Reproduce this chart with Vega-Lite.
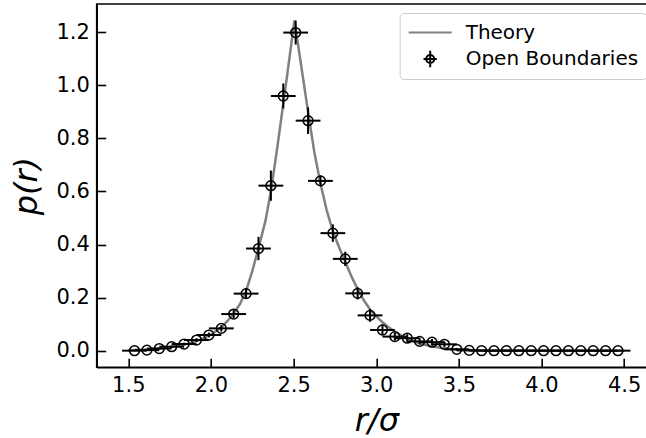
{
  "$schema": "https://vega.github.io/schema/vega-lite/v6.json",
  "width": 559.2,
  "height": 363.3,
  "autosize": {"type": "none"},
  "padding": {"left": 96.7, "top": 4, "right": 0, "bottom": 70.7},
  "background": "white",
  "config": {
    "view": {"stroke": "black", "strokeWidth": 1.6},
    "axis": {
      "grid": false,
      "domainColor": "black",
      "domainWidth": 1.6,
      "tickColor": "black",
      "tickWidth": 1.6,
      "tickSize": -9,
      "labelFont": "DejaVu Sans",
      "labelFontSize": 21,
      "labelColor": "black",
      "labelOverlap": false,
      "labelFlush": false,
      "titleFont": "DejaVu Sans",
      "titleFontSize": 32,
      "titleFontStyle": "italic",
      "titleFontWeight": "normal",
      "titleColor": "black"
    }
  },
  "datasets": {
    "theory": [
      {"r": 1.5, "p": 0.002, "series": "Theory"},
      {"r": 1.6, "p": 0.004, "series": "Theory"},
      {"r": 1.7, "p": 0.009, "series": "Theory"},
      {"r": 1.8, "p": 0.018, "series": "Theory"},
      {"r": 1.85, "p": 0.025, "series": "Theory"},
      {"r": 1.9, "p": 0.033, "series": "Theory"},
      {"r": 1.95, "p": 0.045, "series": "Theory"},
      {"r": 2.0, "p": 0.06, "series": "Theory"},
      {"r": 2.0625, "p": 0.088, "series": "Theory"},
      {"r": 2.1, "p": 0.112, "series": "Theory"},
      {"r": 2.1375, "p": 0.14, "series": "Theory"},
      {"r": 2.175, "p": 0.175, "series": "Theory"},
      {"r": 2.2125, "p": 0.225, "series": "Theory"},
      {"r": 2.25, "p": 0.3, "series": "Theory"},
      {"r": 2.2875, "p": 0.385, "series": "Theory"},
      {"r": 2.33, "p": 0.49, "series": "Theory"},
      {"r": 2.3625, "p": 0.6, "series": "Theory"},
      {"r": 2.4, "p": 0.76, "series": "Theory"},
      {"r": 2.4375, "p": 0.93, "series": "Theory"},
      {"r": 2.47, "p": 1.08, "series": "Theory"},
      {"r": 2.505, "p": 1.245, "series": "Theory"},
      {"r": 2.55, "p": 1.057, "series": "Theory"},
      {"r": 2.5875, "p": 0.9, "series": "Theory"},
      {"r": 2.625, "p": 0.75, "series": "Theory"},
      {"r": 2.6625, "p": 0.63, "series": "Theory"},
      {"r": 2.7, "p": 0.53, "series": "Theory"},
      {"r": 2.7375, "p": 0.45, "series": "Theory"},
      {"r": 2.775, "p": 0.39, "series": "Theory"},
      {"r": 2.8125, "p": 0.335, "series": "Theory"},
      {"r": 2.85, "p": 0.28, "series": "Theory"},
      {"r": 2.8875, "p": 0.232, "series": "Theory"},
      {"r": 2.925, "p": 0.19, "series": "Theory"},
      {"r": 2.9625, "p": 0.155, "series": "Theory"},
      {"r": 3.0, "p": 0.13, "series": "Theory"},
      {"r": 3.0375, "p": 0.107, "series": "Theory"},
      {"r": 3.075, "p": 0.088, "series": "Theory"},
      {"r": 3.1125, "p": 0.072, "series": "Theory"},
      {"r": 3.15, "p": 0.058, "series": "Theory"},
      {"r": 3.1875, "p": 0.046, "series": "Theory"},
      {"r": 3.225, "p": 0.036, "series": "Theory"},
      {"r": 3.2625, "p": 0.028, "series": "Theory"},
      {"r": 3.3, "p": 0.0215, "series": "Theory"},
      {"r": 3.35, "p": 0.015, "series": "Theory"},
      {"r": 3.4, "p": 0.01, "series": "Theory"},
      {"r": 3.45, "p": 0.0065, "series": "Theory"},
      {"r": 3.5, "p": 0.0042, "series": "Theory"},
      {"r": 3.6, "p": 0.0016, "series": "Theory"},
      {"r": 3.7, "p": 0.0006, "series": "Theory"},
      {"r": 3.8, "p": 0.0002, "series": "Theory"},
      {"r": 4.0, "p": 0.0, "series": "Theory"},
      {"r": 4.5, "p": 0.0, "series": "Theory"}
    ],
    "points": [
      {"r": 1.5375, "p": 0.0, "dp": 0.002, "dr": 0.075, "series": "Open Boundaries"},
      {"r": 1.6125, "p": 0.002, "dp": 0.002, "dr": 0.075, "series": "Open Boundaries"},
      {"r": 1.6875, "p": 0.008, "dp": 0.003, "dr": 0.075, "series": "Open Boundaries"},
      {"r": 1.7625, "p": 0.015, "dp": 0.004, "dr": 0.075, "series": "Open Boundaries"},
      {"r": 1.8375, "p": 0.025, "dp": 0.005, "dr": 0.075, "series": "Open Boundaries"},
      {"r": 1.9125, "p": 0.04, "dp": 0.007, "dr": 0.075, "series": "Open Boundaries"},
      {"r": 1.9875, "p": 0.059, "dp": 0.009, "dr": 0.075, "series": "Open Boundaries"},
      {"r": 2.0625, "p": 0.084, "dp": 0.012, "dr": 0.075, "series": "Open Boundaries"},
      {"r": 2.1375, "p": 0.138, "dp": 0.015, "dr": 0.075, "series": "Open Boundaries"},
      {"r": 2.2125, "p": 0.215, "dp": 0.02, "dr": 0.075, "series": "Open Boundaries"},
      {"r": 2.2875, "p": 0.385, "dp": 0.044, "dr": 0.075, "series": "Open Boundaries"},
      {"r": 2.3625, "p": 0.622, "dp": 0.057, "dr": 0.075, "series": "Open Boundaries"},
      {"r": 2.4375, "p": 0.96, "dp": 0.047, "dr": 0.075, "series": "Open Boundaries"},
      {"r": 2.5125, "p": 1.199, "dp": 0.045, "dr": 0.075, "series": "Open Boundaries"},
      {"r": 2.5875, "p": 0.867, "dp": 0.05, "dr": 0.075, "series": "Open Boundaries"},
      {"r": 2.6625, "p": 0.64, "dp": 0.02, "dr": 0.075, "series": "Open Boundaries"},
      {"r": 2.7375, "p": 0.443, "dp": 0.033, "dr": 0.075, "series": "Open Boundaries"},
      {"r": 2.8125, "p": 0.346, "dp": 0.027, "dr": 0.075, "series": "Open Boundaries"},
      {"r": 2.8875, "p": 0.216, "dp": 0.023, "dr": 0.075, "series": "Open Boundaries"},
      {"r": 2.9625, "p": 0.133, "dp": 0.024, "dr": 0.075, "series": "Open Boundaries"},
      {"r": 3.0375, "p": 0.078, "dp": 0.02, "dr": 0.075, "series": "Open Boundaries"},
      {"r": 3.1125, "p": 0.053, "dp": 0.015, "dr": 0.075, "series": "Open Boundaries"},
      {"r": 3.1875, "p": 0.047, "dp": 0.015, "dr": 0.075, "series": "Open Boundaries"},
      {"r": 3.2625, "p": 0.035, "dp": 0.012, "dr": 0.075, "series": "Open Boundaries"},
      {"r": 3.3375, "p": 0.032, "dp": 0.012, "dr": 0.075, "series": "Open Boundaries"},
      {"r": 3.4125, "p": 0.024, "dp": 0.01, "dr": 0.075, "series": "Open Boundaries"},
      {"r": 3.4875, "p": 0.005, "dp": 0.005, "dr": 0.075, "series": "Open Boundaries"},
      {"r": 3.5625, "p": 0.001, "dp": 0.001, "dr": 0.075, "series": "Open Boundaries"},
      {"r": 3.6375, "p": 0.0, "dp": 0.001, "dr": 0.075, "series": "Open Boundaries"},
      {"r": 3.7125, "p": 0.0, "dp": 0.001, "dr": 0.075, "series": "Open Boundaries"},
      {"r": 3.7875, "p": 0.0, "dp": 0.001, "dr": 0.075, "series": "Open Boundaries"},
      {"r": 3.8625, "p": 0.0, "dp": 0.001, "dr": 0.075, "series": "Open Boundaries"},
      {"r": 3.9375, "p": 0.0, "dp": 0.001, "dr": 0.075, "series": "Open Boundaries"},
      {"r": 4.0125, "p": 0.0, "dp": 0.001, "dr": 0.075, "series": "Open Boundaries"},
      {"r": 4.0875, "p": 0.0, "dp": 0.001, "dr": 0.075, "series": "Open Boundaries"},
      {"r": 4.1625, "p": 0.0, "dp": 0.001, "dr": 0.075, "series": "Open Boundaries"},
      {"r": 4.2375, "p": 0.0, "dp": 0.001, "dr": 0.075, "series": "Open Boundaries"},
      {"r": 4.3125, "p": 0.0, "dp": 0.001, "dr": 0.075, "series": "Open Boundaries"},
      {"r": 4.3875, "p": 0.0, "dp": 0.001, "dr": 0.075, "series": "Open Boundaries"},
      {"r": 4.4625, "p": 0.0, "dp": 0.001, "dr": 0.075, "series": "Open Boundaries"}
    ]
  },
  "encoding": {
    "x": {
      "field": "r",
      "type": "quantitative",
      "scale": {"domain": [1.3088, 4.6918], "nice": false, "zero": false},
      "axis": {"title": "r/σ", "values": [1.5, 2, 2.5, 3, 3.5, 4, 4.5], "format": ".1f", "labelPadding": 16.4, "titlePadding": 10}
    },
    "y": {
      "field": "p",
      "type": "quantitative",
      "scale": {"domain": [-0.0627, 1.3067], "nice": false, "zero": false},
      "axis": {"title": "p(r)", "values": [0, 0.2, 0.4, 0.6, 0.8, 1.0, 1.2], "format": ".1f", "labelPadding": 16.4, "titlePadding": 12}
    }
  },
  "layer": [
    {
      "data": {"name": "theory"},
      "mark": {"type": "line", "strokeWidth": 2.5},
      "encoding": {
        "stroke": {
          "field": "series",
          "type": "nominal",
          "scale": {"domain": ["Theory", "Open Boundaries"], "range": ["#808080", "#000000"]},
          "legend": {
            "title": null,
            "orient": "top-right",
            "offset": 9.3,
            "padding": 8,
            "cornerRadius": 4,
            "strokeColor": "#cccccc",
            "fillColor": "white",
            "labelFont": "DejaVu Sans",
            "labelFontSize": 20,
            "labelColor": "black",
            "labelLimit": 400,
            "labelOffset": 13,
            "symbolSize": 1849,
            "symbolStrokeWidth": 2,
            "symbolType": "stroke",
            "clipHeight": 23,
            "rowPadding": 3.5,
            "encode": {
              "symbols": {
                "update": {
                  "shape": {"signal": "datum.value === 'Theory' ? 'stroke' : 'M-0.31,0H0.31M0,-0.386V0.386M0.186,0A0.186,0.186,0,1,1,-0.186,0A0.186,0.186,0,1,1,0.186,0'"},
                  "size": {"value": 1849},
                  "stroke": {"signal": "datum.value === 'Theory' ? '#808080' : '#000000'"},
                  "strokeWidth": {"value": 2},
                  "fill": {"value": "transparent"},
                  "opacity": {"value": 1}
                }
              }
            }
          }
        }
      }
    },
    {
      "data": {"name": "points"},
      "mark": {"type": "errorbar", "ticks": false, "color": "black", "rule": {"strokeWidth": 2}},
      "encoding": {"yError": {"field": "dp"}}
    },
    {
      "data": {"name": "points"},
      "mark": {"type": "errorbar", "ticks": false, "color": "black", "rule": {"strokeWidth": 2}},
      "encoding": {"xError": {"field": "dr"}}
    },
    {
      "data": {"name": "points"},
      "mark": {"type": "point", "shape": "circle", "size": 95, "filled": false, "strokeWidth": 1.5, "opacity": 1},
      "encoding": {
        "stroke": {"field": "series", "type": "nominal"}
      }
    }
  ]
}
